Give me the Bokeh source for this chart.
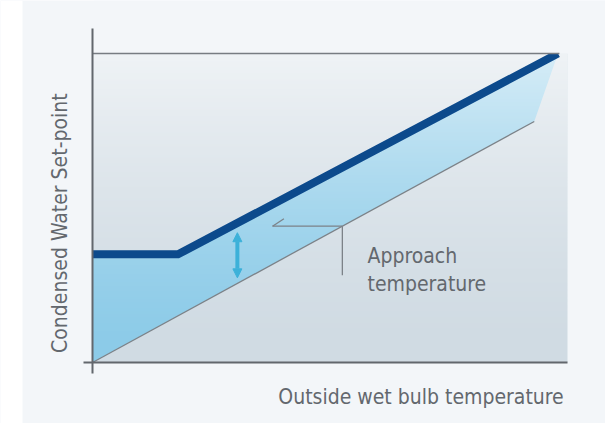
import numpy as np
from bokeh.plotting import figure
from bokeh.models import Range1d, Label, Arrow, NormalHead
from bokeh.embed import file_html
from bokeh.resources import INLINE

# --- chart data (arbitrary units, 0-100 on both axes) ---
wet_bulb_x = [0, 93]              # outside wet bulb temperature line
wet_bulb_y = [0, 78]
setpoint_x = [0, 18, 98]          # condensed water set-point
setpoint_y = [35, 35, 100]
max_setpoint = 100                # upper set-point limit
max_setpoint_x = [0, 98.3]

x_label = "Outside wet bulb temperature"
y_label = "Condensed Water Set-point"
note_lines = ["Approach", "temperature"]

FONT = "'DejaVu Sans Condensed', Roboto, sans-serif"
FONT_SIZE = "21px"
TEXT_COLOR = "#63686e"
AXIS_COLOR = "#62676d"
LINE_GREY = "#7c8288"
SET_BLUE = "#0c4a8c"
BAND_BLUE = "#8ccbe8"
PLOT_BG = "#d0dbe3"
PAGE_BG = "#f3f6f9"
ARROW_CYAN = "#3cb1d9"

W, H = 605, 423
# origin sits at (92, 362) px; one x unit = 4.75 px, one y unit = 3.09 px
x_range = Range1d(-92 / 4.75, (W - 92) / 4.75)
y_range = Range1d(-(H - 362) / 3.09, 362 / 3.09)

p = figure(width=W, height=H, x_range=x_range, y_range=y_range,
           output_backend="svg", toolbar_location=None, min_border=0)
p.axis.visible = False
p.grid.visible = False
p.outline_line_color = None
p.background_fill_color = PAGE_BG
p.border_fill_color = PAGE_BG

# white page margin on the left
p.quad(left=x_range.start, right=-70 / 4.75, bottom=y_range.start, top=y_range.end,
       fill_color="white", line_color=None)

# plot area background
p.quad(left=0, right=100, bottom=0, top=max_setpoint, fill_color=PLOT_BG, line_color=None)

# approach band between set-point and wet bulb lines
band_x = setpoint_x + wet_bulb_x[::-1]
band_y = setpoint_y + wet_bulb_y[::-1]
p.patch(band_x, band_y, fill_color=BAND_BLUE, line_color=None)

# soft white haze that grows towards the top of the plot area
rows = 200
alpha = 0.65 * (np.linspace(0, 1, rows) ** 1.5)
img = np.zeros((rows, 2), dtype=np.uint32)
view = img.view(dtype=np.uint8).reshape((rows, 2, 4))
view[:, :, 0] = 255
view[:, :, 1] = 255
view[:, :, 2] = 255
view[:, :, 3] = (alpha * 255).astype(np.uint8)[:, None]
p.image_rgba(image=[img], x=0, y=0, dw=100, dh=max_setpoint)

# wet bulb line
p.line(wet_bulb_x, wet_bulb_y, line_color=LINE_GREY, line_width=1.3)

# set-point line
p.line(setpoint_x, setpoint_y, line_color=SET_BLUE, line_width=8, line_join="miter")

# trim the thick line flush with the upper limit
p.quad(left=0.3, right=x_range.end, bottom=max_setpoint, top=y_range.end,
       fill_color=PAGE_BG, line_color=None)

# upper limit line
p.line(max_setpoint_x, [max_setpoint, max_setpoint], line_color="#777c82", line_width=1.6)

# axes
p.line([0, 0], [-11 / 3.09, 334 / 3.09], line_color=AXIS_COLOR, line_width=2)
p.line([-9 / 4.75, 100], [0, 0], line_color=AXIS_COLOR, line_width=2.2)

# approach pointer
k = wet_bulb_y[1] / wet_bulb_x[1]
px_ = 52.6
p.line([37.9, px_], [px_ * k, px_ * k], line_color=LINE_GREY, line_width=1.3)
p.line([px_, px_], [px_ * k, 28.2], line_color=LINE_GREY, line_width=1.3)
p.line([37.9, 40.3], [px_ * k, px_ * k + 2.4], line_color=LINE_GREY, line_width=1.3)

# double-headed arrow marking the approach
head = dict(size=9, fill_color=ARROW_CYAN, line_color=ARROW_CYAN)
p.add_layout(Arrow(start=NormalHead(**head), end=NormalHead(**head),
                   x_start=30.5, y_start=27.4, x_end=30.5, y_end=42.0,
                   line_color=ARROW_CYAN, line_width=4))

# texts
for i, t in enumerate(note_lines):
    p.add_layout(Label(x=57.9, y=34.6 - i * 9.1, text=t, text_font=FONT,
                       text_font_size=FONT_SIZE, text_color=TEXT_COLOR,
                       text_baseline="alphabetic", text_align="left"))

p.add_layout(Label(x=99.2, y=-11.3, text=x_label, text_font=FONT, text_font_size=FONT_SIZE,
                   text_color=TEXT_COLOR, text_align="right", text_baseline="alphabetic"))
p.add_layout(Label(x=-6.9, y=45.1, text=y_label, text_font=FONT, text_font_size=FONT_SIZE,
                   text_color=TEXT_COLOR, text_align="center", text_baseline="alphabetic",
                   angle=np.pi / 2))

open("out.html", "w").write(file_html(p, INLINE))
